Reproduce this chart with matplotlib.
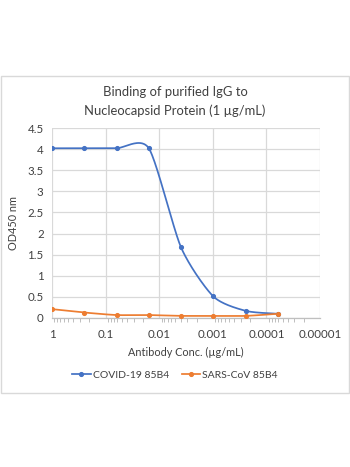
import numpy as np
import matplotlib
matplotlib.use("Agg")
import matplotlib.pyplot as plt
from matplotlib.patches import Rectangle
from matplotlib.lines import Line2D
from matplotlib.ticker import LogLocator, NullFormatter, FixedLocator

plt.rcParams['font.family'] = ['Lato', 'DejaVu Sans']

conc = [1, 0.25, 0.0625, 0.015625, 0.00390625, 0.0009765625, 0.000244140625, 0.00006103515625]
covid = [4.02, 4.02, 4.02, 4.02, 1.67, 0.51, 0.17, 0.10]
sars = [0.21, 0.13, 0.07, 0.07, 0.05, 0.05, 0.05, 0.10]
x_ticks = [1, 0.1, 0.01, 0.001, 0.0001, 0.00001]
x_tick_labels = ['1', '0.1', '0.01', '0.001', '0.0001', '0.00001']
y_ticks = [0, 0.5, 1, 1.5, 2, 2.5, 3, 3.5, 4, 4.5]
y_tick_labels = ['0', '0.5', '1', '1.5', '2', '2.5', '3', '3.5', '4', '4.5']

W, H = 350, 467
fig = plt.figure(figsize=(W/100, H/100), dpi=100)
left, right, bottom, top = 52/W, 320/W, 1-318/H, 1-128/H
ax = fig.add_axes([left, bottom, right-left, top-bottom])
axw, axh = 268, 190

blue = '#4472C4'
orange = '#ED7D31'

def smooth(xs, ys, k=0.12):
    # Excel-like smoothing (Bezier) in screen space
    px = np.array([-np.log10(v)/5*axw for v in xs])
    py = np.array([v/4.5*axh for v in ys])
    P = np.column_stack([px, py])
    n = len(P)
    out = []
    for i in range(n-1):
        p0 = P[i-1] if i > 0 else P[i]
        p1 = P[i]
        p2 = P[i+1]
        p3 = P[i+2] if i+2 < n else P[i+1]
        c1 = p1 + (p2-p0)*k
        c2 = p2 - (p3-p1)*k
        t = np.linspace(0, 1, 40)[:, None]
        seg = (1-t)**3*p1 + 3*(1-t)**2*t*c1 + 3*(1-t)*t**2*c2 + t**3*p2
        out.append(seg if i == 0 else seg[1:])
    S = np.vstack(out)
    sx = 10**(-S[:, 0]/axw*5)
    sy = S[:, 1]/axh*4.5
    return sx, sy

for ys, col in [(covid, blue), (sars, orange)]:
    sx, sy = smooth(conc, ys)
    ax.plot(sx, sy, color=col, lw=1.25, zorder=3, solid_capstyle='round')
    ax.plot(conc, ys, 'o', color=col, ms=2.7, zorder=4)

ax.set_xscale('log')
ax.set_xlim(1, 0.00001)
ax.set_ylim(0, 4.5)
ax.xaxis.set_major_locator(FixedLocator(x_ticks))
ax.set_xticklabels(x_tick_labels)
ax.xaxis.set_minor_locator(LogLocator(base=10, subs=np.arange(2, 10)*1.0, numticks=20))
ax.xaxis.set_minor_formatter(NullFormatter())
ax.set_yticks(y_ticks)
ax.set_yticklabels(y_tick_labels)
ax.grid(True, which='major', color='#d9d9d9', lw=0.9)
ax.set_axisbelow(True)
for s in ['top', 'right', 'left']:
    ax.spines[s].set_visible(False)
ax.spines['bottom'].set_color('#bfbfbf')
ax.spines['bottom'].set_linewidth(0.9)
ax.tick_params(axis='y', length=0, labelsize=8.3, colors='#404040', pad=6)
ax.tick_params(axis='x', which='major', length=0, labelsize=8.3, colors='#404040', pad=8)
ax.tick_params(axis='x', which='minor', length=3, width=0.7, color='#bfbfbf', direction='out')

ax.set_xlabel('Antibody Conc. (µg/mL)', fontsize=7.8, color='#404040', labelpad=5)
ax.set_ylabel('OD450 nm', fontsize=7.8, color='#404040', labelpad=6)

fig.text(0.5, 1-91.5/H, 'Binding of purified IgG to', ha='center', va='center', fontsize=9.4, color='#404040')
fig.text(0.5, 1-110.5/H, 'Nucleocapsid Protein (1 µg/mL)', ha='center', va='center', fontsize=9.4, color='#404040')

handles = [Line2D([0], [0], color=blue, lw=1.25, marker='o', ms=2.7),
           Line2D([0], [0], color=orange, lw=1.25, marker='o', ms=2.7)]
fig.legend(handles, ['COVID-19 85B4', 'SARS-CoV 85B4'], loc='center', bbox_to_anchor=(0.5, 1-375/H),
           ncol=2, frameon=False, fontsize=7.5, handlelength=1.8, handletextpad=0.2, columnspacing=1.2,
           labelcolor='#404040')

fig.patches.append(Rectangle((0.5/W, 1-392.5/H), 348.5/W, 317/H, transform=fig.transFigure,
                             fill=False, edgecolor='#d9d9d9', lw=1.0))

fig.savefig('out.png', dpi=100, facecolor='white')
